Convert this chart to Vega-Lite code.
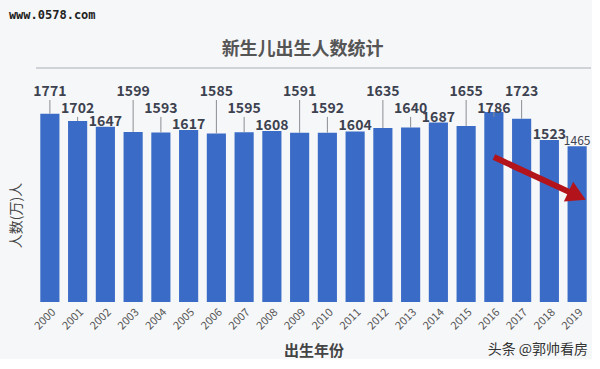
{
  "$schema": "https://vega.github.io/schema/vega-lite/v6.json",
  "width": 555,
  "height": 234,
  "padding": {"left": 8, "top": 9, "right": 0, "bottom": 0},
  "background": "#f6f7f9",
  "config": {"view": {"stroke": null}, "font": "Noto Sans CJK SC"},
  "datasets": {
    "births": [
      {"year": "2000", "births": 1771},
      {"year": "2001", "births": 1702},
      {"year": "2002", "births": 1647},
      {"year": "2003", "births": 1599},
      {"year": "2004", "births": 1593},
      {"year": "2005", "births": 1617},
      {"year": "2006", "births": 1585},
      {"year": "2007", "births": 1595},
      {"year": "2008", "births": 1608},
      {"year": "2009", "births": 1591},
      {"year": "2010", "births": 1592},
      {"year": "2011", "births": 1604},
      {"year": "2012", "births": 1635},
      {"year": "2013", "births": 1640},
      {"year": "2014", "births": 1687},
      {"year": "2015", "births": 1655},
      {"year": "2016", "births": 1786},
      {"year": "2017", "births": 1723},
      {"year": "2018", "births": 1523},
      {"year": "2019", "births": 1465}
    ],
    "arrow": [
      {"from": "2016", "to": "2019", "start": 1363, "end": 1000}
    ]
  },
  "layer": [
    {
      "data": {"values": [{}]},
      "mark": {"type": "rule", "color": "#cfd2d6", "strokeWidth": 2},
      "encoding": {"y": {"datum": 2200, "type": "quantitative"}}
    },
    {
      "data": {"name": "births"},
      "mark": {"type": "bar", "color": "#3a6bc6"},
      "encoding": {
        "x": {
          "field": "year", "type": "ordinal",
          "scale": {"paddingInner": 0.31, "paddingOuter": 0.155},
          "axis": {"title": "出生年份", "labelAngle": -45, "labelFontSize": 11, "labelColor": "#555555", "ticks": false, "domain": false, "labelPadding": 4, "titleFontSize": 15, "titleFontWeight": "bold", "titleColor": "#444444", "titlePadding": 12}
        },
        "y": {
          "field": "births", "type": "quantitative",
          "scale": {"domain": [0, 2200], "nice": false},
          "axis": {"title": "人数(万)人", "labels": false, "ticks": false, "domain": false, "grid": false, "titleFontSize": 14, "titleFontWeight": "normal", "titleColor": "#444444", "titlePadding": 13, "titleY": 147}
        }
      }
    },
    {
      "data": {"name": "births"},
      "transform": [{"filter": {"field": "year", "oneOf": ["2000", "2003", "2006", "2009", "2012", "2015", "2017"]}}],
      "mark": {"type": "rule", "color": "#8a8d93", "strokeWidth": 1},
      "encoding": {
        "x": {"field": "year", "type": "ordinal"},
        "y": {"field": "births", "type": "quantitative"},
        "y2": {"datum": 1899}
      }
    },
    {
      "data": {"name": "births"},
      "transform": [{"filter": {"field": "year", "oneOf": ["2001", "2004", "2007", "2010", "2013", "2016"]}}],
      "mark": {"type": "rule", "color": "#8a8d93", "strokeWidth": 1},
      "encoding": {
        "x": {"field": "year", "type": "ordinal"},
        "y": {"field": "births", "type": "quantitative"},
        "y2": {"datum": 1740}
      }
    },
    {
      "data": {"name": "births"},
      "transform": [{"filter": {"field": "year", "oneOf": ["2000", "2003", "2006", "2009", "2012", "2015", "2017"]}}],
      "mark": {"type": "text", "baseline": "middle", "fontSize": 14, "fontWeight": "bold", "color": "#3d4250"},
      "encoding": {
        "x": {"field": "year", "type": "ordinal"},
        "y": {"datum": 1974, "type": "quantitative"},
        "text": {"field": "births", "type": "quantitative"}
      }
    },
    {
      "data": {"name": "births"},
      "transform": [{"filter": {"field": "year", "oneOf": ["2001", "2004", "2007", "2010", "2013", "2016"]}}],
      "mark": {"type": "text", "baseline": "middle", "fontSize": 14, "fontWeight": "bold", "color": "#3d4250"},
      "encoding": {
        "x": {"field": "year", "type": "ordinal"},
        "y": {"datum": 1814, "type": "quantitative"},
        "text": {"field": "births", "type": "quantitative"}
      }
    },
    {
      "data": {"name": "births"},
      "transform": [{"filter": {"field": "year", "oneOf": ["2002", "2005", "2008", "2011", "2014", "2018"]}}],
      "mark": {"type": "text", "baseline": "bottom", "dy": 2, "fontSize": 14, "fontWeight": "bold", "color": "#3d4250"},
      "encoding": {
        "x": {"field": "year", "type": "ordinal"},
        "y": {"field": "births", "type": "quantitative"},
        "text": {"field": "births", "type": "quantitative"}
      }
    },
    {
      "data": {"name": "births"},
      "transform": [{"filter": {"field": "year", "equal": "2019"}}],
      "mark": {"type": "text", "baseline": "bottom", "dy": 2, "fontSize": 12, "fontWeight": "normal", "color": "#3d4250"},
      "encoding": {
        "x": {"field": "year", "type": "ordinal"},
        "y": {"field": "births", "type": "quantitative"},
        "text": {"field": "births", "type": "quantitative"}
      }
    },
    {
      "data": {"name": "arrow"},
      "mark": {"type": "rule", "color": "#b3141c", "strokeWidth": 6},
      "encoding": {
        "x": {"field": "from", "type": "ordinal"},
        "x2": {"field": "to"},
        "y": {"field": "start", "type": "quantitative"},
        "y2": {"field": "end"}
      }
    },
    {
      "data": {"name": "arrow"},
      "mark": {"type": "point", "shape": "triangle-right", "filled": true, "color": "#b3141c", "opacity": 1, "size": 480, "angle": 25},
      "encoding": {
        "x": {"field": "to", "type": "ordinal"},
        "y": {"field": "end", "type": "quantitative"}
      }
    },
    {
      "data": {"values": [{}]},
      "mark": {"type": "text", "text": "新生儿出生人数统计", "align": "center", "baseline": "middle", "dx": 3, "dy": -18, "fontSize": 18, "fontWeight": "bold", "color": "#555555"},
      "encoding": {
        "x": {"datum": "2009", "type": "ordinal"},
        "y": {"datum": 2200, "type": "quantitative"}
      }
    },
    {
      "data": {"values": [{}]},
      "mark": {"type": "text", "text": "www.0578.com", "align": "left", "baseline": "middle", "dx": -41, "dy": -53, "font": "DejaVu Sans Mono", "fontSize": 12, "fontWeight": "bold", "color": "#222222"},
      "encoding": {
        "x": {"datum": "2000", "type": "ordinal"},
        "y": {"datum": 2200, "type": "quantitative"}
      }
    },
    {
      "data": {"values": [{}]},
      "mark": {"type": "text", "text": "头条 @郭帅看房", "align": "right", "baseline": "middle", "dx": 11, "dy": 48, "fontSize": 14, "color": "#333333"},
      "encoding": {
        "x": {"datum": "2019", "type": "ordinal"},
        "y": {"datum": 0, "type": "quantitative"}
      }
    }
  ]
}
